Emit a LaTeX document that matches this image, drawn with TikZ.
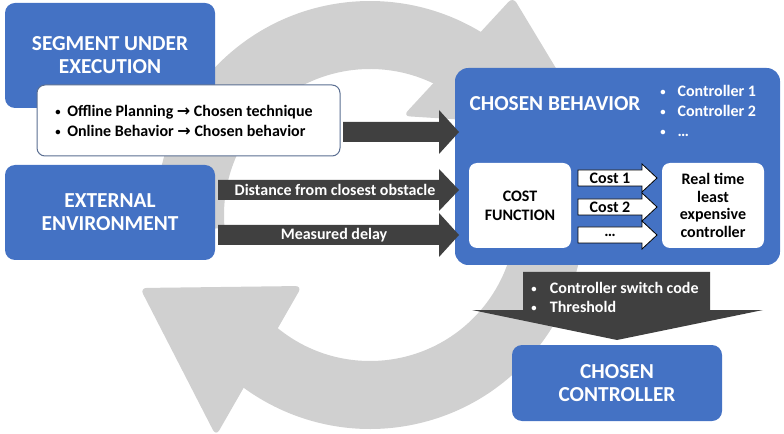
\documentclass[tikz,border=0pt]{standalone}
\usepackage{fontspec}
\setmainfont{Carlito}
\newfontfamily\arrowfont{DejaVu Sans}
\usetikzlibrary{calc}
\definecolor{ppblue}{RGB}{68,114,196}
\definecolor{ppdark}{RGB}{64,64,64}
\definecolor{ppgray}{RGB}{208,208,208}
\definecolor{ppedge}{RGB}{90,110,145}
% horizontal block arrow: #1 style, #2 tail coord, #3 tip coord, #4 body half, #5 head half, #6 head length
\newcommand{\harrow}[6]{%
  \path[#1] ($(#2)+(0,-#4)$) -- ($(#3)+(-#6,-#4)$) -- ($(#3)+(-#6,-#5)$) -- (#3)
    -- ($(#3)+(-#6,#5)$) -- ($(#3)+(-#6,#4)$) -- ($(#2)+(0,#4)$) -- cycle;}
\newcommand{\bul}[1]{\makebox[#1][l]{\raisebox{0.6pt}{\fontsize{8}{8}\selectfont •}}}
\begin{document}
\begin{tikzpicture}[x=0.75pt,y=-0.75pt,
  big/.style={font=\bfseries\fontsize{16}{17.25}\selectfont},
  small/.style={font=\bfseries\fontsize{12}{15}\selectfont},
  bluebox/.style={fill=ppblue, rounded corners=7.5pt, inner sep=0pt, text=white, align=center, big},
  whitebox/.style={fill=white, rounded corners=6pt, inner sep=0pt, align=center, text=black},
  darkfill/.style={fill=ppdark},
  costarrow/.style={fill=white, draw=black, line width=0.6pt},
  lbl/.style={inner sep=0pt, small},
]
\useasboundingbox (0,0) rectangle (784,434);

% ---------- grey circular arrow (background) ----------
\fill[ppgray] ($(370,215)+(-185:214)$) arc[start angle=-185, end angle=-50, radius=214]
  -- ($(370,215)+(-50:146)$) arc[start angle=-50, end angle=-185, radius=146] -- cycle;
\fill[ppgray, rounded corners=5pt] (513,-3) -- (592,128) -- (403,116) -- cycle;
\fill[ppgray] ($(370,215)+(-10:214)$) arc[start angle=-10, end angle=132, radius=214]
  -- ($(370,215)+(132:146)$) arc[start angle=132, end angle=-10, radius=146] -- cycle;
\fill[ppgray, rounded corners=5pt] (140,288) -- (302,286) -- (216,436) -- cycle;

% ---------- left boxes ----------
\node[bluebox, minimum width=157.5pt, minimum height=78.75pt] (seg) at (110,55.5)
  {SEGMENT UNDER\\EXECUTION};
\node[whitebox, draw=ppedge, line width=0.75pt, minimum width=227.25pt, minimum height=53.25pt] (bul) at (188.5,120.5) {};
\node[lbl, anchor=west, align=left] (bultext) at (55,121)
  {\bul{9pt}Offline Planning {\arrowfont\bfseries →} Chosen technique\\
   \bul{9pt}Online Behavior {\arrowfont\bfseries →} Chosen behavior};
\node[bluebox, minimum width=157.5pt, minimum height=71.25pt] (ext) at (110,212.5)
  {EXTERNAL\\ENVIRONMENT};

% ---------- chosen behavior box ----------
\node[bluebox, rounded corners=10pt, minimum width=243.75pt, minimum height=147.75pt] (beh) at (617.5,166.5) {};
\node[lbl, big, text=white] (behtitle) at (555,104) {CHOSEN BEHAVIOR};
\node[lbl, text=white, anchor=west, align=left] (behlist) at (660,111)
  {\bul{13pt}Controller 1\\ \bul{13pt}Controller 2\\ \bul{13pt}…};
\node[whitebox, small, font=\bfseries\fontsize{12}{14.25}\selectfont, minimum width=76.5pt, minimum height=63.75pt] (cost) at (520,205.5)
  {COST\\FUNCTION};
\node[whitebox, small, font=\bfseries\fontsize{12}{13.3}\selectfont, minimum width=76.5pt, minimum height=63.75pt] (rt) at (713,205.5)
  {Real time\\least\\expensive\\controller};

% ---------- cost arrows ----------
\coordinate (c1s) at (578,178); \coordinate (c1e) at (657,178);
\coordinate (c2s) at (578,207); \coordinate (c2e) at (657,207);
\coordinate (c3s) at (578,235); \coordinate (c3e) at (657,235);
\harrow{costarrow}{c1s}{c1e}{8}{14}{15}
\harrow{costarrow}{c2s}{c2e}{8}{14}{15}
\harrow{costarrow}{c3s}{c3e}{8}{14}{15}
\node[lbl] (cost1) at (610,178) {Cost 1};
\node[lbl] (cost2) at (610,207) {Cost 2};
\node[lbl] (cost3) at (610,235) {…};

% ---------- dark input arrows ----------
\coordinate (a1s) at (343,132); \coordinate (a1e) at (459,132);
\coordinate (a2s) at (218,190); \coordinate (a2e) at (459,190);
\coordinate (a3s) at (218,235); \coordinate (a3e) at (459,235);
\harrow{darkfill}{a1s}{a1e}{10}{22}{20}
\harrow{darkfill}{a2s}{a2e}{10}{21}{20}
\harrow{darkfill}{a3s}{a3e}{10}{22}{20}
\node[lbl, text=white] (dist) at (335,190) {Distance from closest obstacle};
\node[lbl, text=white] (delay) at (334,235) {Measured delay};

% ---------- output arrow ----------
\fill[ppdark] (523,272) -- (710,272) -- (710,310) -- (763,310) -- (617,340) -- (472,310) -- (523,310) -- cycle;
\node[lbl, text=white, anchor=west, align=left, font=\bfseries\fontsize{12}{14.25}\selectfont] (switch) at (531,297.5)
  {\bul{14pt}Controller switch code\\ \bul{14pt}Threshold};

\node[bluebox, minimum width=157.5pt, minimum height=57pt] (ctrl) at (617,383)
  {CHOSEN\\CONTROLLER};
\end{tikzpicture}
\end{document}
